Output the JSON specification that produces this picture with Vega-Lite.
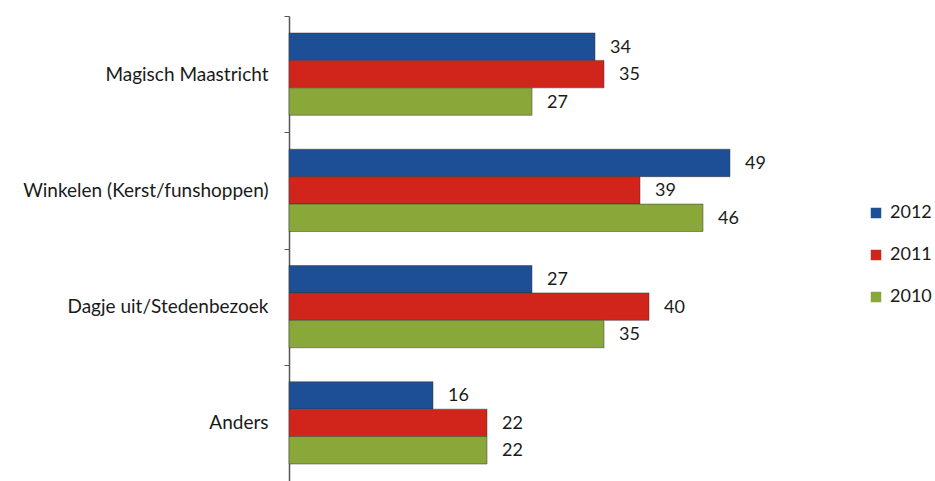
{
  "$schema": "https://vega.github.io/schema/vega-lite/v6.json",
  "width": 540,
  "height": 465,
  "autosize": {"type": "none"},
  "padding": {"left": 289, "top": 16, "right": 106, "bottom": 0},
  "background": "white",
  "config": {"view": {"stroke": null}, "font": "Lato"},
  "data": {
    "values": [
      {"category": "Magisch Maastricht", "year": "2012", "value": 34},
      {"category": "Magisch Maastricht", "year": "2011", "value": 35},
      {"category": "Magisch Maastricht", "year": "2010", "value": 27},
      {"category": "Winkelen (Kerst/funshoppen)", "year": "2012", "value": 49},
      {"category": "Winkelen (Kerst/funshoppen)", "year": "2011", "value": 39},
      {"category": "Winkelen (Kerst/funshoppen)", "year": "2010", "value": 46},
      {"category": "Dagje uit/Stedenbezoek", "year": "2012", "value": 27},
      {"category": "Dagje uit/Stedenbezoek", "year": "2011", "value": 40},
      {"category": "Dagje uit/Stedenbezoek", "year": "2010", "value": 35},
      {"category": "Anders", "year": "2012", "value": 16},
      {"category": "Anders", "year": "2011", "value": 22},
      {"category": "Anders", "year": "2010", "value": 22}
    ]
  },
  "encoding": {
    "y": {
      "field": "category",
      "type": "nominal",
      "sort": ["Magisch Maastricht", "Winkelen (Kerst/funshoppen)", "Dagje uit/Stedenbezoek", "Anders"],
      "scale": {"paddingInner": 0, "paddingOuter": 0},
      "axis": {
        "title": null,
        "tickBand": "extent",
        "domainColor": "#555555",
        "domainWidth": 1.5,
        "tickColor": "#555555",
        "tickSize": 5,
        "labelPadding": 16,
        "labelFontSize": 19,
        "labelLimit": 400,
        "labelColor": "#1a1a1a",
        "labelFont": "Lato"
      }
    },
    "yOffset": {
      "field": "year",
      "type": "nominal",
      "sort": ["2012", "2011", "2010"],
      "scale": {"paddingInner": 0, "paddingOuter": 0.62}
    },
    "x": {
      "field": "value",
      "type": "quantitative",
      "scale": {"domain": [0, 60], "nice": false},
      "axis": null
    }
  },
  "layer": [
    {
      "mark": {"type": "bar", "stroke": "#333333", "strokeWidth": 0.8, "strokeOpacity": 0.6},
      "encoding": {
        "color": {
          "field": "year",
          "type": "nominal",
          "scale": {"domain": ["2012", "2011", "2010"], "range": ["#1d4f96", "#d1241b", "#8aa83a"]},
          "legend": {
            "orient": "none",
            "legendX": 578,
            "legendY": 188,
            "title": null,
            "symbolType": "square",
            "symbolSize": 110,
            "symbolStrokeWidth": 0,
            "labelFontSize": 18,
            "labelColor": "#1a1a1a",
            "rowPadding": 24,
            "labelOffset": 5
          }
        }
      }
    },
    {
      "mark": {"type": "text", "align": "left", "baseline": "middle", "dx": 15, "dy": 1, "fontSize": 18, "color": "#1a1a1a"},
      "encoding": {"text": {"field": "value", "type": "quantitative"}}
    }
  ]
}
